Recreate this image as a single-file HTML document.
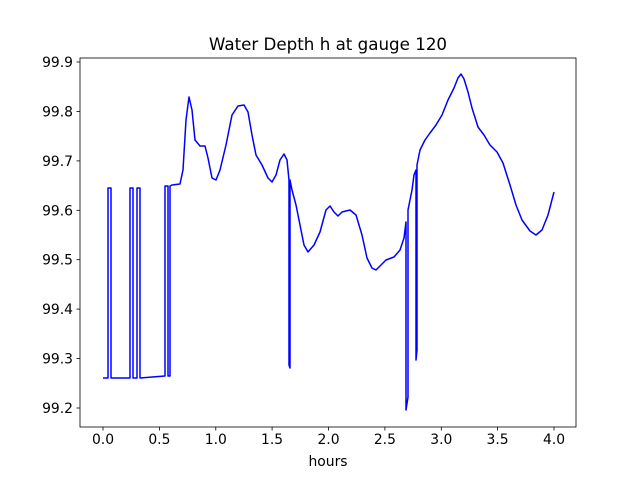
<!DOCTYPE html>
<html><head><style>
body{margin:0;background:#fff;}
svg text{font-family:"DejaVu Sans","Liberation Sans",sans-serif;font-size:13.9px;fill:#000;}
</style></head><body>
<svg width="640" height="480" viewBox="0 0 640 480" xmlns="http://www.w3.org/2000/svg">
<rect width="640" height="480" fill="#fff"/>
<text x="328" y="50" text-anchor="middle" style="font-size:16.7px">Water Depth h at gauge 120</text>
<path d="M103,378 L108,378 L108,188 L111,188 L111,378 L130,378 L130,188 L133,188 L133,378 L137,378 L137,188 L140,188 L140,378 L165,376 L165,186 L168,186 L168,376 L170,376 L170,186 L172,185 L180,184 L183,170 L186,120 L189,97 L192,110 L195,140 L200,146 L205,146 L208,158 L212,178 L216,180 L220,170 L226,145 L232,115 L238,106 L244,105 L248,112 L252,135 L256,155 L262,165 L268,178 L272,182 L276,175 L280,160 L284,154 L287,160 L289,180 L289,365 L290,368 L290,180 L292,190 L296,205 L300,225 L304,245 L308,252 L314,245 L320,232 L326,210 L330,206 L334,212 L338,216 L342,212 L350,210 L356,215 L362,235 L367,258 L372,268 L376,270 L380,266 L386,260 L394,257 L400,250 L404,238 L406,222 L406,410 L408,397 L408,210 L412,190 L414,175 L416,170 L416,360 L417,350 L417,165 L420,150 L425,140 L430,133 L436,125 L442,115 L448,100 L454,88 L458,78 L461,74 L464,79 L468,92 L472,108 L478,127 L484,135 L490,145 L497,152 L503,163 L510,185 L516,205 L522,220 L530,231 L536,235 L542,230 L548,215 L554,192" fill="none" stroke="#0000ff" stroke-width="1.5" stroke-linejoin="round"/>
<rect x="80" y="58" width="496" height="369" fill="none" stroke="#000" stroke-width="0.8"/>
<g stroke="#000" stroke-width="0.8">
<line x1="103" y1="427" x2="103" y2="430.5"/><line x1="159.4" y1="427" x2="159.4" y2="430.5"/><line x1="215.8" y1="427" x2="215.8" y2="430.5"/><line x1="272.1" y1="427" x2="272.1" y2="430.5"/><line x1="328.5" y1="427" x2="328.5" y2="430.5"/><line x1="384.9" y1="427" x2="384.9" y2="430.5"/><line x1="441.3" y1="427" x2="441.3" y2="430.5"/><line x1="497.6" y1="427" x2="497.6" y2="430.5"/><line x1="554" y1="427" x2="554" y2="430.5"/>
<line x1="76.5" y1="408" x2="80" y2="408"/><line x1="76.5" y1="358.6" x2="80" y2="358.6"/><line x1="76.5" y1="309.1" x2="80" y2="309.1"/><line x1="76.5" y1="259.7" x2="80" y2="259.7"/><line x1="76.5" y1="210.3" x2="80" y2="210.3"/><line x1="76.5" y1="160.9" x2="80" y2="160.9"/><line x1="76.5" y1="111.4" x2="80" y2="111.4"/><line x1="76.5" y1="62" x2="80" y2="62"/>
</g>
<g text-anchor="middle">
<text x="103" y="444">0.0</text><text x="159.4" y="444">0.5</text><text x="215.8" y="444">1.0</text><text x="272.1" y="444">1.5</text><text x="328.5" y="444">2.0</text><text x="384.9" y="444">2.5</text><text x="441.3" y="444">3.0</text><text x="497.6" y="444">3.5</text><text x="554" y="444">4.0</text>
<text x="328" y="466">hours</text>
</g>
<g text-anchor="end">
<text x="73" y="413">99.2</text><text x="73" y="363.6">99.3</text><text x="73" y="314.1">99.4</text><text x="73" y="264.7">99.5</text><text x="73" y="215.3">99.6</text><text x="73" y="165.9">99.7</text><text x="73" y="116.4">99.8</text><text x="73" y="67">99.9</text>
</g>
</svg>
</body></html>
